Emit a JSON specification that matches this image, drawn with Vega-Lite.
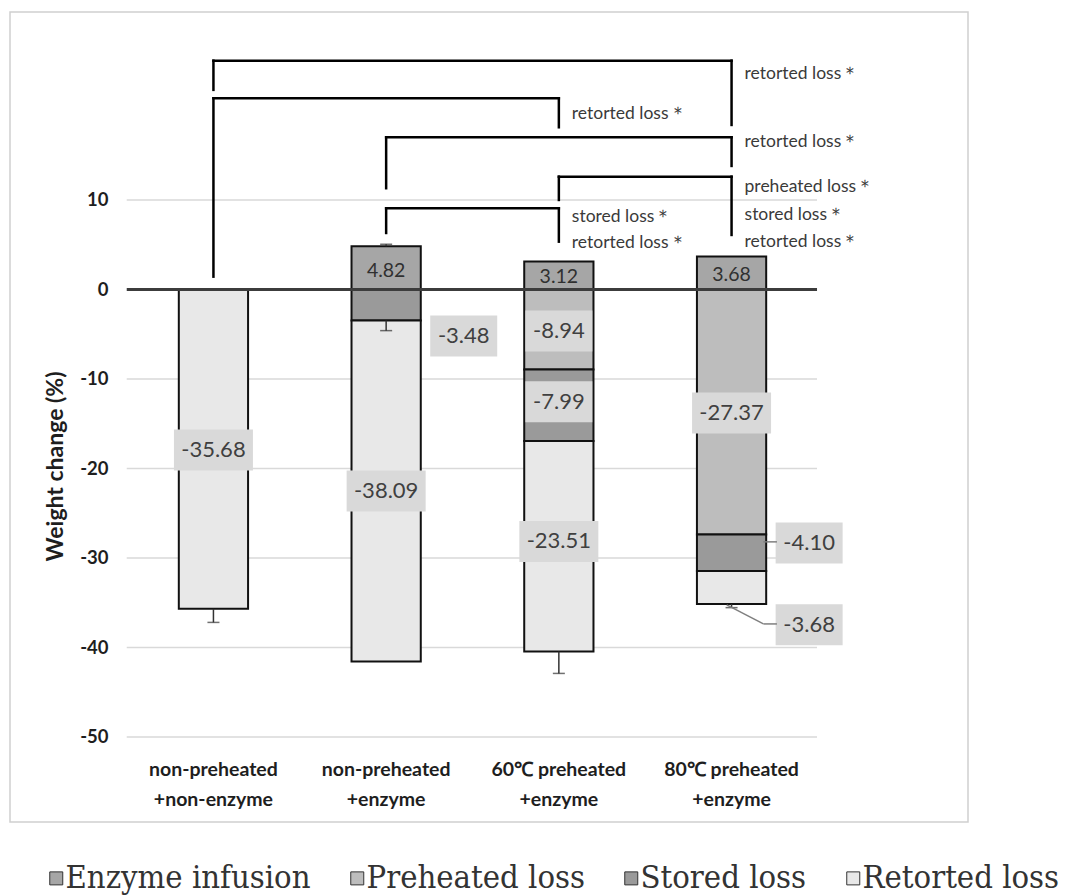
{
  "$schema": "https://vega.github.io/schema/vega-lite/v6.json",
  "width": 958,
  "height": 810,
  "autosize": {"type": "none"},
  "padding": {"left": 10, "top": 12, "right": 107, "bottom": 74},
  "background": "white",
  "config": {
    "view": {"stroke": "#d0d0d0", "strokeWidth": 1.5},
    "font": "Lato"
  },
  "datasets": {
    "bars": [
      {"group": "non-preheated|+non-enzyme", "component": "Retorted loss", "step": 4, "value": -35.68},
      {"group": "non-preheated|+enzyme", "component": "Enzyme infusion", "step": 1, "value": 4.82},
      {"group": "non-preheated|+enzyme", "component": "Stored loss", "step": 3, "value": -3.48},
      {"group": "non-preheated|+enzyme", "component": "Retorted loss", "step": 4, "value": -38.09},
      {"group": "60℃ preheated|+enzyme", "component": "Enzyme infusion", "step": 1, "value": 3.12},
      {"group": "60℃ preheated|+enzyme", "component": "Preheated loss", "step": 2, "value": -8.94},
      {"group": "60℃ preheated|+enzyme", "component": "Stored loss", "step": 3, "value": -7.99},
      {"group": "60℃ preheated|+enzyme", "component": "Retorted loss", "step": 4, "value": -23.51},
      {"group": "80℃ preheated|+enzyme", "component": "Enzyme infusion", "step": 1, "value": 3.68},
      {"group": "80℃ preheated|+enzyme", "component": "Preheated loss", "step": 2, "value": -27.37},
      {"group": "80℃ preheated|+enzyme", "component": "Stored loss", "step": 3, "value": -4.10},
      {"group": "80℃ preheated|+enzyme", "component": "Retorted loss", "step": 4, "value": -3.68}
    ],
    "grid": [{"y": -50}, {"y": -40}, {"y": -30}, {"y": -20}, {"y": -10}, {"y": 10}],
    "zero": [{"y": 0}],
    "err": [
      {"group": "non-preheated|+non-enzyme", "from": -35.68, "to": -37.2},
      {"group": "non-preheated|+enzyme", "from": -3.48, "to": -4.6},
      {"group": "non-preheated|+enzyme", "from": 4.82, "to": 5.05},
      {"group": "60℃ preheated|+enzyme", "from": -40.44, "to": -42.9},
      {"group": "80℃ preheated|+enzyme", "from": -35.15, "to": -35.55}
    ],
    "hbr": [
      {"from": "non-preheated|+non-enzyme", "to": "80℃ preheated|+enzyme", "y": 25.56},
      {"from": "non-preheated|+non-enzyme", "to": "60℃ preheated|+enzyme", "y": 21.36},
      {"from": "non-preheated|+enzyme", "to": "80℃ preheated|+enzyme", "y": 17.0},
      {"from": "60℃ preheated|+enzyme", "to": "80℃ preheated|+enzyme", "y": 12.6},
      {"from": "non-preheated|+enzyme", "to": "60℃ preheated|+enzyme", "y": 9.07}
    ],
    "vbr": [
      {"group": "non-preheated|+non-enzyme", "top": 25.56, "bottom": 22.3},
      {"group": "80℃ preheated|+enzyme", "top": 25.56, "bottom": 18.38},
      {"group": "non-preheated|+non-enzyme", "top": 21.36, "bottom": 1.43},
      {"group": "60℃ preheated|+enzyme", "top": 21.36, "bottom": 18.12},
      {"group": "non-preheated|+enzyme", "top": 17.0, "bottom": 11.31},
      {"group": "80℃ preheated|+enzyme", "top": 17.0, "bottom": 13.8},
      {"group": "60℃ preheated|+enzyme", "top": 12.6, "bottom": 10.0},
      {"group": "80℃ preheated|+enzyme", "top": 12.6, "bottom": 6.09},
      {"group": "non-preheated|+enzyme", "top": 9.07, "bottom": 6.31},
      {"group": "60℃ preheated|+enzyme", "top": 9.07, "bottom": 5.34}
    ],
    "blabels": [
      {"group": "80℃ preheated|+enzyme", "t": "retorted loss＊", "y": 24.04},
      {"group": "60℃ preheated|+enzyme", "t": "retorted loss＊", "y": 19.61},
      {"group": "80℃ preheated|+enzyme", "t": "retorted loss＊", "y": 16.45},
      {"group": "80℃ preheated|+enzyme", "t": "preheated loss＊", "y": 11.49},
      {"group": "80℃ preheated|+enzyme", "t": "stored loss＊", "y": 8.32},
      {"group": "80℃ preheated|+enzyme", "t": "retorted loss＊", "y": 5.34},
      {"group": "60℃ preheated|+enzyme", "t": "stored loss＊", "y": 8.13},
      {"group": "60℃ preheated|+enzyme", "t": "retorted loss＊", "y": 5.16}
    ],
    "labels": [
      {"group": "non-preheated|+non-enzyme", "t": "-35.68", "y": -17.93, "where": "in"},
      {"group": "non-preheated|+enzyme", "t": "-38.09", "y": -22.51, "where": "in"},
      {"group": "non-preheated|+enzyme", "t": "-3.48", "y": -5.2, "where": "beside"},
      {"group": "non-preheated|+enzyme", "t": "4.82", "y": 2.1, "where": "in"},
      {"group": "60℃ preheated|+enzyme", "t": "3.12", "y": 1.36, "where": "in"},
      {"group": "60℃ preheated|+enzyme", "t": "-8.94", "y": -4.64, "where": "in"},
      {"group": "60℃ preheated|+enzyme", "t": "-7.99", "y": -12.54, "where": "in"},
      {"group": "60℃ preheated|+enzyme", "t": "-23.51", "y": -28.16, "where": "in"},
      {"group": "80℃ preheated|+enzyme", "t": "3.68", "y": 1.62, "where": "in"},
      {"group": "80℃ preheated|+enzyme", "t": "-27.37", "y": -13.8, "where": "in"},
      {"group": "80℃ preheated|+enzyme", "t": "-4.10", "y": -28.32, "where": "beside"},
      {"group": "80℃ preheated|+enzyme", "t": "-3.68", "y": -37.45, "where": "beside"}
    ],
    "diag": [{"group": "80℃ preheated|+enzyme", "y": -35.25, "y2": -37.37}],
    "horiz": [
      {"group": "80℃ preheated|+enzyme", "y": -37.37},
      {"group": "80℃ preheated|+enzyme", "y": -28.2}
    ]
  },
  "layer": [
    {
      "data": {"name": "grid"},
      "mark": {"type": "rule", "color": "#d9d9d9", "strokeWidth": 1.5},
      "encoding": {
        "x": {"datum": "non-preheated|+non-enzyme", "type": "nominal", "bandPosition": -0.752},
        "x2": {"datum": "80℃ preheated|+enzyme", "bandPosition": 1.734},
        "y": {"field": "y", "type": "quantitative"}
      }
    },
    {
      "data": {"name": "bars"},
      "mark": {"type": "bar", "stroke": "#111111", "strokeWidth": 2},
      "encoding": {
        "x": {
          "field": "group", "type": "nominal", "sort": null,
          "scale": {
            "domain": ["non-preheated|+non-enzyme", "non-preheated|+enzyme", "60℃ preheated|+enzyme", "80℃ preheated|+enzyme"],
            "range": [117, 808],
            "paddingInner": 0.599, "paddingOuter": 0.3, "align": 0.5
          },
          "axis": {
            "title": null, "orient": "bottom", "offset": -62, "domain": false, "ticks": false,
            "labelPadding": 0, "labelAngle": 0, "labelBaseline": "top", "labelAlign": "center",
            "labelExpr": "split(datum.label, '|')", "labelLineHeight": 30,
            "labelFont": "Lato", "labelFontWeight": "bold", "labelFontSize": 19.5,
            "labelColor": "#1e1e1e", "labelLimit": 300
          }
        },
        "y": {
          "field": "value", "type": "quantitative", "stack": "zero",
          "scale": {"domain": [-59.5, 31.0], "nice": false},
          "axis": {
            "title": "Weight change (%)", "values": [-50, -40, -30, -20, -10, 0, 10],
            "grid": false, "domain": false, "ticks": false, "offset": -98, "labelPadding": 0,
            "labelExpr": "toString(datum.value)",
            "labelFont": "Lato", "labelFontWeight": "bold", "labelFontSize": 18.5, "labelColor": "#1e1e1e",
            "titleFont": "Lato", "titleFontWeight": "bold", "titleFontSize": 23, "titleColor": "#1e1e1e",
            "titleX": -53, "titleY": 454, "titleAngle": 270, "titleAlign": "center", "titleBaseline": "middle"
          }
        },
        "color": {
          "field": "component", "type": "nominal",
          "scale": {
            "domain": ["Enzyme infusion", "Preheated loss", "Stored loss", "Retorted loss"],
            "range": ["#a6a6a6", "#bdbdbd", "#9a9a9a", "#e8e8e8"]
          },
          "legend": {
            "title": null, "orient": "none", "legendX": 30, "legendY": 850, "padding": 0,
            "direction": "horizontal", "columns": 4, "symbolType": "square", "symbolSize": 169,
            "symbolOffset": 0,
            "symbolStrokeColor": "#333333", "symbolStrokeWidth": 1,
            "labelFont": "DejaVu Serif Condensed, DejaVu Serif, serif", "labelFontSize": 32.5,
            "labelColor": "#333333", "labelOffset": -7, "columnPadding": 30, "labelLimit": 400
          }
        },
        "order": {"field": "step", "type": "quantitative"}
      }
    },
    {
      "data": {"name": "err"},
      "mark": {"type": "rule", "color": "#333333", "strokeWidth": 1.5},
      "encoding": {
        "x": {"field": "group", "type": "nominal"},
        "y": {"field": "from", "type": "quantitative"},
        "y2": {"field": "to"}
      }
    },
    {
      "data": {"name": "err"},
      "mark": {"type": "tick", "color": "#333333", "size": 12, "thickness": 1.5, "orient": "horizontal"},
      "encoding": {
        "x": {"field": "group", "type": "nominal"},
        "y": {"field": "to", "type": "quantitative"}
      }
    },
    {
      "data": {"name": "hbr"},
      "mark": {"type": "rule", "color": "#000000", "strokeWidth": 2.5, "strokeCap": "square"},
      "encoding": {
        "x": {"field": "from", "type": "nominal"},
        "x2": {"field": "to"},
        "y": {"field": "y", "type": "quantitative"}
      }
    },
    {
      "data": {"name": "vbr"},
      "mark": {"type": "rule", "color": "#000000", "strokeWidth": 2.5, "strokeCap": "square"},
      "encoding": {
        "x": {"field": "group", "type": "nominal"},
        "y": {"field": "top", "type": "quantitative"},
        "y2": {"field": "bottom"}
      }
    },
    {
      "data": {"name": "blabels"},
      "mark": {"type": "text", "align": "left", "baseline": "middle", "dx": 13, "fontSize": 17.5, "color": "#3a3a3a", "font": "Lato"},
      "encoding": {
        "x": {"field": "group", "type": "nominal"},
        "y": {"field": "y", "type": "quantitative"},
        "text": {"field": "t"}
      }
    },
    {
      "data": {"name": "labels"},
      "transform": [{"filter": "datum.where == 'in' && datum.y < 0 && length(datum.t) > 5"}],
      "mark": {"type": "point", "shape": "M-1,-0.519H1V0.519H-1Z", "size": 6241, "filled": true, "color": "#d9d9d9", "opacity": 1, "strokeWidth": 0},
      "encoding": {
        "x": {"field": "group", "type": "nominal"},
        "y": {"field": "y", "type": "quantitative"}
      }
    },
    {
      "data": {"name": "labels"},
      "transform": [{"filter": "datum.where == 'in' && datum.y < 0 && length(datum.t) <= 5"}],
      "mark": {"type": "point", "shape": "M-1,-0.612H1V0.612H-1Z", "size": 4489, "filled": true, "color": "#d9d9d9", "opacity": 1, "strokeWidth": 0},
      "encoding": {
        "x": {"field": "group", "type": "nominal"},
        "y": {"field": "y", "type": "quantitative"}
      }
    },
    {
      "data": {"name": "labels"},
      "transform": [{"filter": "datum.where == 'beside'"}],
      "mark": {"type": "point", "shape": "M-1,-0.612H1V0.612H-1Z", "size": 4489, "filled": true, "color": "#d9d9d9", "opacity": 1, "strokeWidth": 0},
      "encoding": {
        "x": {"field": "group", "type": "nominal", "bandPosition": 1.62},
        "y": {"field": "y", "type": "quantitative"}
      }
    },
    {
      "data": {"name": "labels"},
      "transform": [{"filter": "datum.where == 'in' && datum.y < 0"}],
      "mark": {"type": "text", "align": "center", "baseline": "middle", "fontSize": 22, "color": "#404040", "font": "Lato"},
      "encoding": {
        "x": {"field": "group", "type": "nominal"},
        "y": {"field": "y", "type": "quantitative"},
        "text": {"field": "t"}
      }
    },
    {
      "data": {"name": "labels"},
      "transform": [{"filter": "datum.where == 'in' && datum.y > 0"}],
      "mark": {"type": "text", "align": "center", "baseline": "middle", "fontSize": 19.5, "color": "#303030", "font": "Lato"},
      "encoding": {
        "x": {"field": "group", "type": "nominal"},
        "y": {"field": "y", "type": "quantitative"},
        "text": {"field": "t"}
      }
    },
    {
      "data": {"name": "labels"},
      "transform": [{"filter": "datum.where == 'beside'"}],
      "mark": {"type": "text", "align": "center", "baseline": "middle", "fontSize": 22, "color": "#404040", "font": "Lato"},
      "encoding": {
        "x": {"field": "group", "type": "nominal", "bandPosition": 1.62},
        "y": {"field": "y", "type": "quantitative"},
        "text": {"field": "t"}
      }
    },
    {
      "data": {"name": "diag"},
      "mark": {"type": "rule", "color": "#7f7f7f", "strokeWidth": 1.5},
      "encoding": {
        "x": {"field": "group", "type": "nominal", "bandPosition": 0.43},
        "x2": {"field": "group", "bandPosition": 0.96},
        "y": {"field": "y", "type": "quantitative"},
        "y2": {"field": "y2"}
      }
    },
    {
      "data": {"name": "horiz"},
      "mark": {"type": "rule", "color": "#7f7f7f", "strokeWidth": 1.5},
      "encoding": {
        "x": {"field": "group", "type": "nominal", "bandPosition": 0.96},
        "x2": {"field": "group", "bandPosition": 1.155},
        "y": {"field": "y", "type": "quantitative"}
      }
    },
    {
      "data": {"name": "zero"},
      "mark": {"type": "rule", "color": "#3c3c3c", "strokeWidth": 3},
      "encoding": {
        "x": {"datum": "non-preheated|+non-enzyme", "type": "nominal", "bandPosition": -0.752},
        "x2": {"datum": "80℃ preheated|+enzyme", "bandPosition": 1.734},
        "y": {"field": "y", "type": "quantitative"}
      }
    }
  ]
}
